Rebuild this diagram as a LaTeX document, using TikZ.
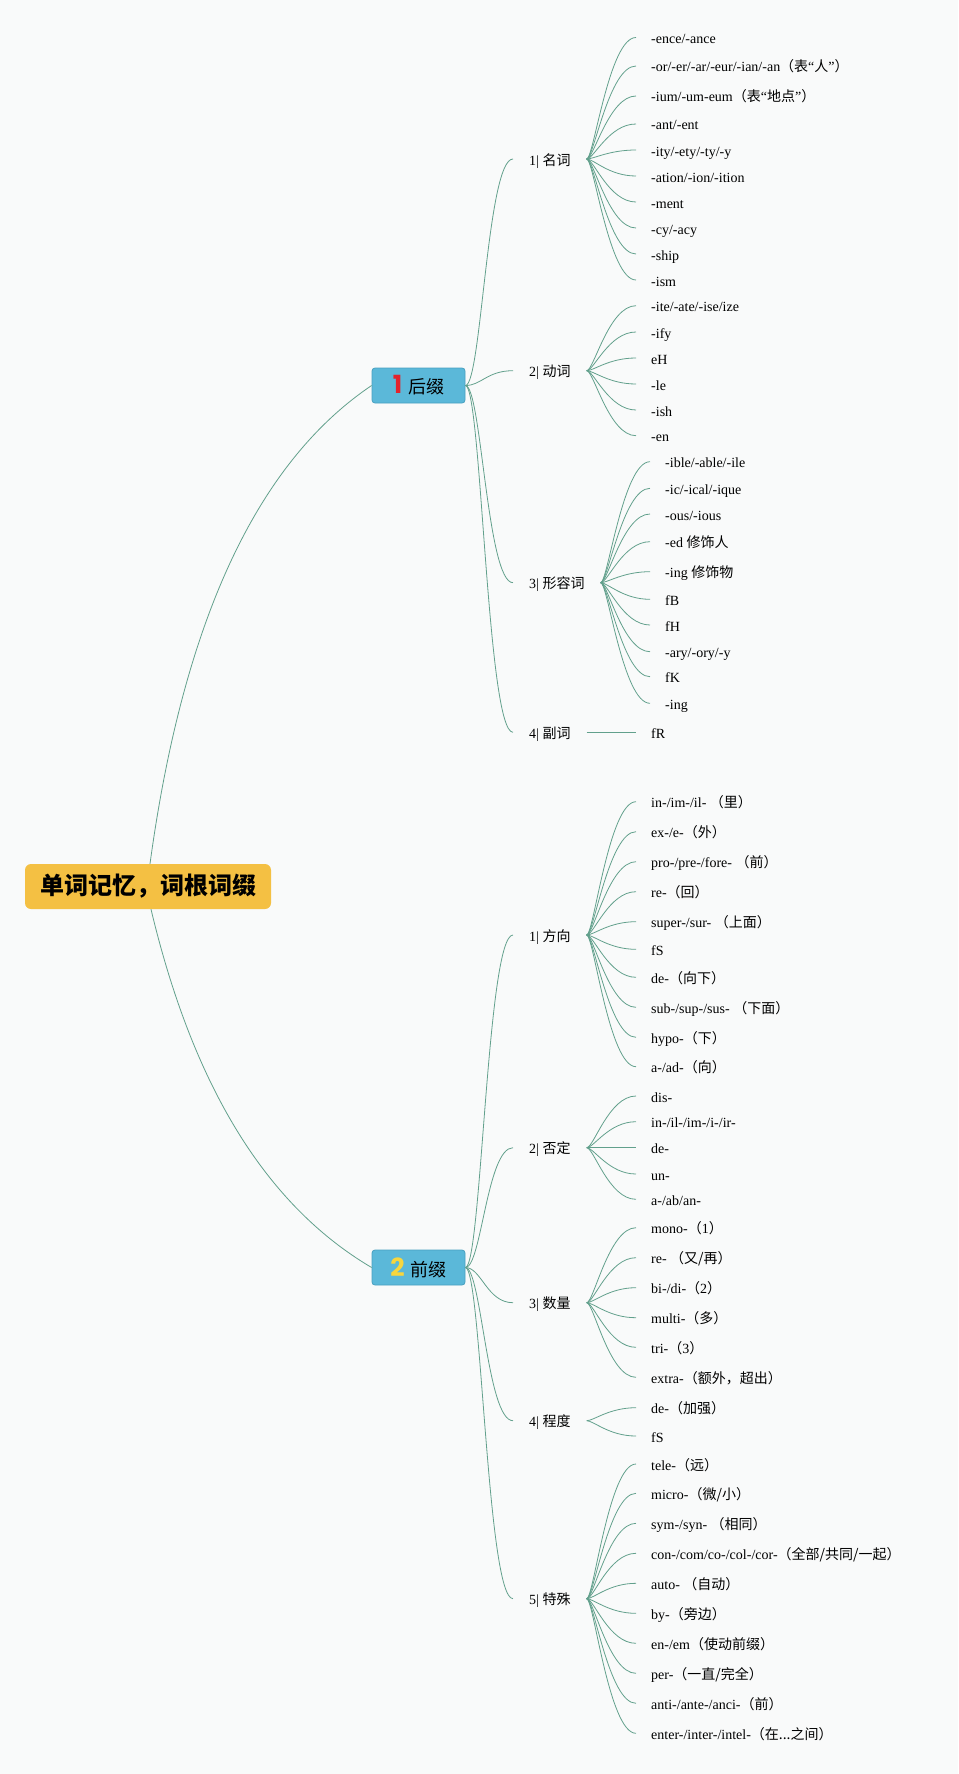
\documentclass[tikz,border=0pt]{standalone}
\usepackage{fontspec}
\setmainfont{Liberation Serif}
\newfontfamily\cjk{Noto Sans CJK SC}
\newfontfamily\numfont{Poppins}
\newcommand\zh[1]{{\cjk #1}}
\definecolor{bgc}{RGB}{249,250,250}
\definecolor{linec}{RGB}{98,160,140}
\definecolor{rootfill}{RGB}{244,192,67}
\definecolor{lonefill}{RGB}{91,184,217}
\definecolor{loneline}{RGB}{72,160,192}
\definecolor{digred}{RGB}{226,35,45}
\definecolor{digyel}{RGB}{247,214,62}
\begin{document}
\begin{tikzpicture}[x=1pt,y=-1pt,
  conn/.style={draw=linec, line width=0.8pt},
  leaf/.style={anchor=west, inner xsep=15pt, inner ysep=0pt, text height=15pt, text depth=3pt, font=\fontsize{14}{16}\selectfont},
  cat/.style={anchor=west, inner xsep=16pt, inner ysep=0pt, text height=15pt, text depth=3pt, font=\fontsize{14}{16}\selectfont},
  topbox/.style={fill=lonefill, draw=loneline, line width=0.8pt, rounded corners=3pt, minimum width=93pt, minimum height=35pt, inner sep=0pt, font=\fontsize{18}{20}\selectfont},
  rootbox/.style={fill=rootfill, rounded corners=6pt, minimum width=246pt, minimum height=45pt, inner sep=0pt, font=\fontsize{24}{28}\selectfont\cjk\bfseries}
]
\fill[bgc] (0,0) rectangle (958,1774);
\useasboundingbox (0,0) rectangle (958,1774);

% root and main branches
\node[rootbox] (root) at (148,886.5) {单词记忆，词根词缀};
\node[topbox] (hz) at (418.5,385.5) {{\fontsize{25}{26}\selectfont\numfont\bfseries\color{digred}1}\hspace{6pt}\zh{后缀}};
\node[topbox] (qz) at (418.5,1267.5) {{\fontsize{25}{26}\selectfont\numfont\bfseries\color{digyel}2}\hspace{6pt}\zh{前缀}};

% 后缀 categories
\node[cat] (a1) at (513,159) {1| \zh{名词}};
\node[cat] (a2) at (513,370.7) {2| \zh{动词}};
\node[cat] (a3) at (513,582.7) {3| \zh{形容词}};
\node[cat] (a4) at (513,732.3) {4| \zh{副词}};

% 名词
\node[leaf] (a1l1) at (636,37.5) {-ence/-ance};
\node[leaf] (a1l2) at (636,66) {-or/-er/-ar/-eur/-ian/-an\zh{（表}“\zh{人}”\zh{）}};
\node[leaf] (a1l3) at (636,96) {-ium/-um-eum\zh{（表}“\zh{地点}”\zh{）}};
\node[leaf] (a1l4) at (636,124) {-ant/-ent};
\node[leaf] (a1l5) at (636,150) {-ity/-ety/-ty/-y};
\node[leaf] (a1l6) at (636,176) {-ation/-ion/-ition};
\node[leaf] (a1l7) at (636,202) {-ment};
\node[leaf] (a1l8) at (636,228) {-cy/-acy};
\node[leaf] (a1l9) at (636,254) {-ship};
\node[leaf] (a1l10) at (636,280) {-ism};
% 动词
\node[leaf] (a2l1) at (636,305.7) {-ite/-ate/-ise/ize};
\node[leaf] (a2l2) at (636,332) {-ify};
\node[leaf] (a2l3) at (636,358) {eH};
\node[leaf] (a2l4) at (636,384) {-le};
\node[leaf] (a2l5) at (636,410) {-ish};
\node[leaf] (a2l6) at (636,435.7) {-en};
% 形容词
\node[leaf] (a3l1) at (650,461.7) {-ible/-able/-ile};
\node[leaf] (a3l2) at (650,488.3) {-ic/-ical/-ique};
\node[leaf] (a3l3) at (650,514) {-ous/-ious};
\node[leaf] (a3l4) at (650,541.7) {-ed \zh{修饰人}};
\node[leaf] (a3l5) at (650,571.7) {-ing \zh{修饰物}};
\node[leaf] (a3l6) at (650,599.3) {fB};
\node[leaf] (a3l7) at (650,625) {fH};
\node[leaf] (a3l8) at (650,651.7) {-ary/-ory/-y};
\node[leaf] (a3l9) at (650,676.7) {fK};
\node[leaf] (a3l10) at (650,703.3) {-ing};
% 副词
\node[leaf] (a4l1) at (636,732.3) {fR};

% 前缀 categories
\node[cat] (b1) at (513,935) {1| \zh{方向}};
\node[cat] (b2) at (513,1147.7) {2| \zh{否定}};
\node[cat] (b3) at (513,1302.7) {3| \zh{数量}};
\node[cat] (b4) at (513,1420.7) {4| \zh{程度}};
\node[cat] (b5) at (513,1598.7) {5| \zh{特殊}};

% 方向
\node[leaf] (b1l1) at (636,801.7) {in-/im-/il- \zh{（里）}};
\node[leaf] (b1l2) at (636,831.7) {ex-/e-\zh{（外）}};
\node[leaf] (b1l3) at (636,861.7) {pro-/pre-/fore- \zh{（前）}};
\node[leaf] (b1l4) at (636,891.7) {re-\zh{（回）}};
\node[leaf] (b1l5) at (636,921.7) {super-/sur- \zh{（上面）}};
\node[leaf] (b1l6) at (636,949.3) {fS};
\node[leaf] (b1l7) at (636,977.3) {de-\zh{（向下）}};
\node[leaf] (b1l8) at (636,1007.3) {sub-/sup-/sus- \zh{（下面）}};
\node[leaf] (b1l9) at (636,1037.3) {hypo-\zh{（下）}};
\node[leaf] (b1l10) at (636,1066.7) {a-/ad-\zh{（向）}};
% 否定
\node[leaf] (b2l1) at (636,1096) {dis-};
\node[leaf] (b2l2) at (636,1121.7) {in-/il-/im-/i-/ir-};
\node[leaf] (b2l3) at (636,1147.7) {de-};
\node[leaf] (b2l4) at (636,1174) {un-};
\node[leaf] (b2l5) at (636,1199.3) {a-/ab/an-};
% 数量
\node[leaf] (b3l1) at (636,1227.7) {mono-\zh{（}1\zh{）}};
\node[leaf] (b3l2) at (636,1257.7) {re- \zh{（又/再）}};
\node[leaf] (b3l3) at (636,1287.7) {bi-/di-\zh{（}2\zh{）}};
\node[leaf] (b3l4) at (636,1317.7) {multi-\zh{（多）}};
\node[leaf] (b3l5) at (636,1347.3) {tri-\zh{（}3\zh{）}};
\node[leaf] (b3l6) at (636,1377.3) {extra-\zh{（额外，超出）}};
% 程度
\node[leaf] (b4l1) at (636,1407.7) {de-\zh{（加强）}};
\node[leaf] (b4l2) at (636,1436) {fS};
% 特殊
\node[leaf] (b5l1) at (636,1464) {tele-\zh{（远）}};
\node[leaf] (b5l2) at (636,1493.3) {micro-\zh{（微/小）}};
\node[leaf] (b5l3) at (636,1523.3) {sym-/syn- \zh{（相同）}};
\node[leaf] (b5l4) at (636,1553.3) {con-/com/co-/col-/cor-\zh{（全部/共同/一起）}};
\node[leaf] (b5l5) at (636,1583.3) {auto- \zh{（自动）}};
\node[leaf] (b5l6) at (636,1613.3) {by-\zh{（旁边）}};
\node[leaf] (b5l7) at (636,1643.3) {en-/em\zh{（使动前缀）}};
\node[leaf] (b5l8) at (636,1673.3) {per-\zh{（一直/完全）}};
\node[leaf] (b5l9) at (636,1703.3) {anti-/ante-/anci-\zh{（前）}};
\node[leaf] (b5l10) at (636,1733.3) {enter-/inter-/intel-\zh{（在...之间）}};

% connectors: root to main branches
\draw[conn] ([xshift=2pt]root.north) .. controls +(33,-242) and +(-115,77.5) .. (hz.west);
\draw[conn] ([xshift=3pt]root.south) .. controls +(42,176.5) and +(-106,-62.5) .. (qz.west);

% main branches to categories
\foreach \i in {1,...,4}
  \draw[conn] (hz.east) .. controls +(16,0) and +(-26,0) .. (a\i.west);
\foreach \i in {1,...,5}
  \draw[conn] (qz.east) .. controls +(16,0) and +(-26,0) .. (b\i.west);

% categories to leaves
\foreach \c/\n in {a1/10,a2/6,a3/10,a4/1,b1/10,b2/5,b3/6,b4/2,b5/10}
  \foreach \i in {1,...,\n}
    \draw[conn] (\c.east) .. controls +(7,0) and +(-27,0) .. (\c l\i.west);
\end{tikzpicture}
\end{document}
